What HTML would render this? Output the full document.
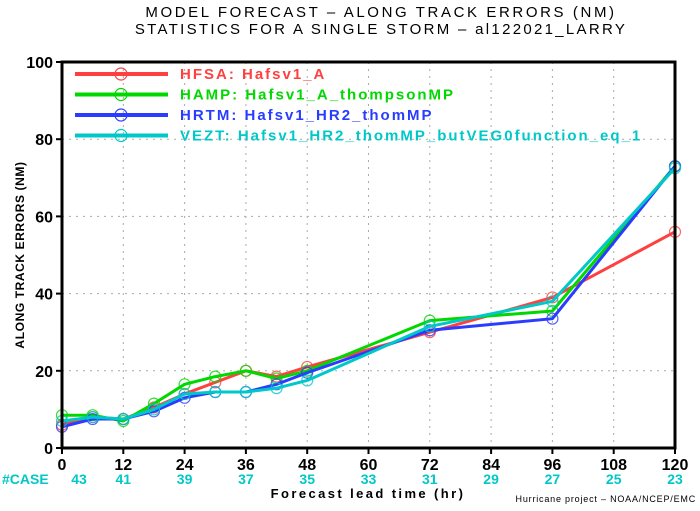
<!DOCTYPE html>
<html><head><meta charset="utf-8"><style>
body{margin:0;background:#fff;width:700px;height:506px;overflow:hidden}
text{font-family:"Liberation Sans",sans-serif}
</style></head><body>
<svg id="chart" width="700" height="506" xmlns="http://www.w3.org/2000/svg">
<text x="381" y="17" text-anchor="middle" font-size="15" letter-spacing="2.6" fill="#000">MODEL FORECAST – ALONG TRACK ERRORS (NM)</text>
<text x="381" y="34" text-anchor="middle" font-size="15" letter-spacing="2.3" fill="#000">STATISTICS FOR A SINGLE STORM – al122021_LARRY</text>
<g id="grid"></g>
<g id="series"></g>
<g id="axes"></g>
<text transform="translate(24,255) rotate(-90)" text-anchor="middle" font-size="12" font-weight="bold" letter-spacing="0.6">ALONG TRACK ERRORS (NM)</text>
<text x="368" y="498" text-anchor="middle" font-size="13" font-weight="bold" letter-spacing="2.4">Forecast lead time (hr)</text>
<text x="696" y="502" text-anchor="end" font-size="9" letter-spacing="0.8">Hurricane project – NOAA/NCEP/EMC</text>
<text x="2" y="484" font-size="14" font-weight="bold" fill="#00c8c8">#CASE</text>
<g id="legend"></g>
</svg>
<script>
const hours=[0,6,12,18,24,30,36,42,48,72,96,120];
const xTicks=[0,12,24,36,48,60,72,84,96,108,120];
const yTicks=[0,20,40,60,80,100];
const caseCounts=[43,41,39,37,35,33,31,29,27,25,23];
const hfsa=[6,8,7.5,10.5,14,17,20,18.5,21,30,39,56];
const hamp=[8.5,8.5,7,11.5,16.5,18.5,20,18,20,33,35.5,73];
const hrtm=[5.5,7.5,7.5,9.5,13,14.5,14.5,16.5,19.5,30.5,33.5,73];
const vezt=[7,8,7.5,10,14,14.5,14.5,15.5,17.5,31.5,38,72.5];
const seriesNames=["HFSA: Hafsv1_A","HAMP: Hafsv1_A_thompsonMP","HRTM: Hafsv1_HR2_thomMP","VEZT: Hafsv1_HR2_thomMP_butVEG0function_eq_1"];
const L=62,R=675,T=62,B=448;
const X=h=>L+(h/120)*(R-L), Y=v=>B-(v/100)*(B-T);
const NS="http://www.w3.org/2000/svg";
function mk(tag,attrs,parent){const e=document.createElementNS(NS,tag);for(const k in attrs)e.setAttribute(k,attrs[k]);parent.appendChild(e);return e;}
const grid=document.getElementById('grid'),axes=document.getElementById('axes'),sg=document.getElementById('series'),lg=document.getElementById('legend');
xTicks.forEach((t,i)=>{
 if(t>0&&t<120){const g=mk('line',{x1:X(t),x2:X(t),y1:T,y2:B,stroke:'#aaa','stroke-dasharray':'2,5','stroke-width':1},grid);
 
 }
 const tk=mk('line',{x1:X(t),x2:X(t),y1:B,y2:B+6,stroke:'#000','stroke-width':2},axes);
 
 
 const tl=mk('text',{x:X(t),y:B+22,'text-anchor':'middle','font-size':16,'font-weight':'bold'},axes);
 tl.textContent=t;
 
 
 const cl=mk('text',{x:X(t)+(i==0?17:0),y:B+36,'text-anchor':'middle','font-size':14,'font-weight':'bold',fill:'#00c8c8'},axes);
 cl.textContent=caseCounts[i];
 
 
});
yTicks.forEach(t=>{
 if(t>0&&t<100){const g=mk('line',{x1:L,x2:R,y1:Y(t),y2:Y(t),stroke:'#aaa','stroke-dasharray':'2,5','stroke-width':1},grid);
 
 }
 const tk=mk('line',{x1:L-6,x2:L,y1:Y(t),y2:Y(t),stroke:'#000','stroke-width':2},axes);
 
 
 const tl=mk('text',{x:L-9,y:Y(t)+6,'text-anchor':'end','font-size':16,'font-weight':'bold'},axes);
 tl.textContent=t;
 
 
});
const frame=mk('rect',{x:L,y:T,width:R-L,height:B-T,fill:'none',stroke:'#000','stroke-width':3},axes);


const data=[hfsa,hamp,hrtm,vezt],cols=['#ff4040','#00d800','#2a3cff','#00c8c8'],names=['hfsa','hamp','hrtm','vezt'];
data.forEach((d,si)=>{
 const g=mk('g',{},sg);
 
 
 const pl=mk('polyline',{points:d.map((v,i)=>X(hours[i])+','+Y(v)).join(' '),fill:'none',stroke:cols[si],'stroke-width':3,'stroke-linejoin':'round'},g);
 
 
 d.forEach((v,i)=>{const c=mk('circle',{cx:X(hours[i]),cy:Y(v),r:5.5,fill:'none',stroke:cols[si],'stroke-width':1.2,opacity:0.8},g);
 
 });
 const ly=74+si*20.5;
 const e=mk('g',{},lg);
 
 
 mk('line',{x1:75,x2:168,y1:ly,y2:ly,stroke:cols[si],'stroke-width':4},e);
 mk('circle',{cx:121,cy:ly,r:6,fill:'none',stroke:cols[si],'stroke-width':1.2},e);
 const t=mk('text',{x:180,y:ly+5,'font-size':15,'font-weight':'bold','letter-spacing':2,fill:cols[si]},e);
 t.textContent=seriesNames[si];
});
</script>
</body></html>
